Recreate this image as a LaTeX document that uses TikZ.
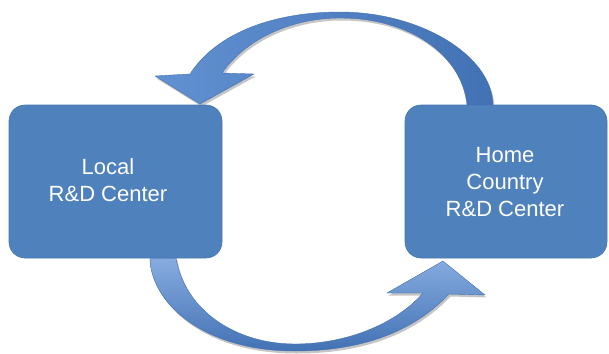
\documentclass[tikz,border=0pt]{standalone}
\usepackage{fontspec}
\setmainfont{Liberation Sans}
\definecolor{boxblue}{RGB}{79,129,189}
\definecolor{boxedge}{RGB}{72,120,178}
\definecolor{arrlight}{RGB}{135,172,224}
\definecolor{arrmid}{RGB}{98,145,210}
\definecolor{arrdark}{RGB}{66,114,180}
\definecolor{shadowgray}{RGB}{150,150,150}
\newcommand\TopArrowPath{(493,105) .. controls (492,55) and (420,12) .. (340,12) .. controls (270,12) and (215,35) .. (190,74) -- (155,76) -- (200,104) -- (254,74) -- (222,73) .. controls (245,40) and (290,18) .. (340,18) .. controls (410,18) and (462,55) .. (467,105) -- cycle}
\newcommand\BottomArrowPath{(150,258) .. controls (150,300) and (200,351) .. (295,351) .. controls (365,351) and (415,330) .. (449,294) -- (485,295) -- (443,261) -- (387,293) -- (423,293) .. controls (395,325) and (345,344) .. (295,344) .. controls (235,344) and (185,310) .. (176,258) -- cycle}
\begin{document}
\begin{tikzpicture}[x=1pt,y=-1pt,
  box/.style={draw=boxedge, line width=0.6pt, fill=boxblue, rounded corners=16pt, inner sep=0pt},
  lbl/.style={text=white, font=\fontsize{22}{27}\selectfont, align=center, inner sep=0pt},
  arrowshape/.style={draw=arrdark, line width=0.4pt, line join=round},
  arrshadow/.style={fill=shadowgray, opacity=0.55}]
\useasboundingbox (0,0) rectangle (609,353);
% shadows of the block arrows
\begin{scope}[shift={(1.5,2.5)}]
  \path[arrshadow] \TopArrowPath;
  \path[arrshadow] \BottomArrowPath;
\end{scope}
% block arrows
\shadedraw[arrowshape, left color=arrmid, right color=arrdark] \TopArrowPath;
\shadedraw[arrowshape, top color=arrlight, bottom color=arrdark] \BottomArrowPath;
% boxes
\node[box, minimum width=213pt, minimum height=153pt] (local) at (115.5,181.5) {};
\node[box, minimum width=202pt, minimum height=153pt] (home) at (506,181.5) {};
\node[lbl] (localtext) at (108,180) {Local\\R\&D Center};
\node[lbl] (hometext) at (505,182.5) {Home\\Country\\R\&D Center};
\end{tikzpicture}
\end{document}
